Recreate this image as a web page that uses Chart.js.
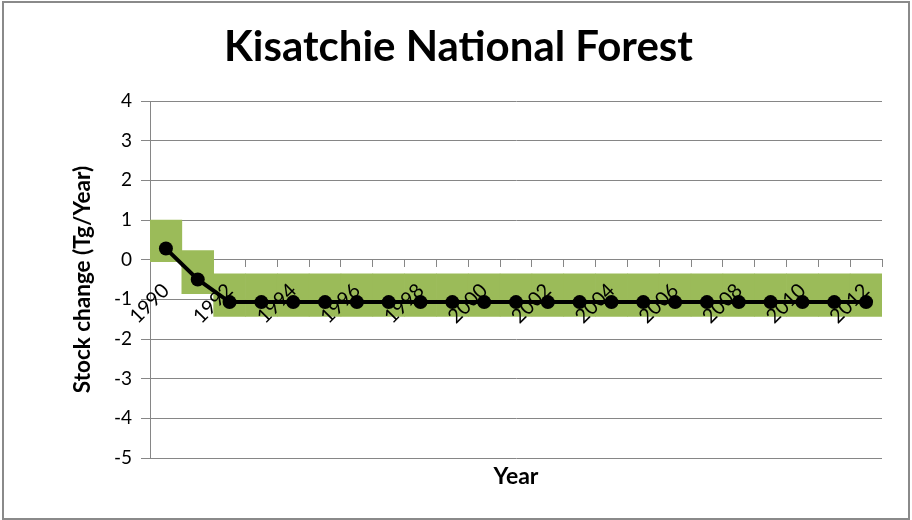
<!DOCTYPE html>
<html><head><meta charset="utf-8">
<script src="https://cdn.jsdelivr.net/npm/chart.js@4"></script>
<style>
html,body{margin:0;padding:0;background:#fff;}
#wrap{position:relative;box-sizing:border-box;margin:1px 0 0 2px;width:908px;height:519px;border:2px solid #8a8a8a;}
</style></head>
<body><div id="wrap"><canvas id="c"></canvas></div>
<script>
const years = ['1990','1991','1992','1993','1994','1995','1996','1997','1998','1999','2000','2001',
  '2002','2003','2004','2005','2006','2007','2008','2009','2010','2011','2012'];
const stockChange = [0.28, -0.5, -1.07, -1.07, -1.07, -1.07, -1.07, -1.07, -1.07, -1.07, -1.07, -1.07,
  -1.07, -1.07, -1.07, -1.07, -1.07, -1.07, -1.07, -1.07, -1.07, -1.07, -1.07];
const rangeLow = [-0.05, -0.86, -1.43, -1.43, -1.43, -1.43, -1.43, -1.43, -1.43, -1.43, -1.43, -1.43,
  -1.43, -1.43, -1.43, -1.43, -1.43, -1.43, -1.43, -1.43, -1.43, -1.43, -1.43];
const rangeHigh = [1.0, 0.23, -0.36, -0.36, -0.36, -0.36, -0.36, -0.36, -0.36, -0.36, -0.36, -0.36,
  -0.36, -0.36, -0.36, -0.36, -0.36, -0.36, -0.36, -0.36, -0.36, -0.36, -0.36];
const yMin = -5, yMax = 4, yStep = 1;

const FONT = 'Lato';
const GRID = '#868686';

new Chart(document.getElementById('c'), {
  data: {
    labels: years,
    datasets: [
      {
        type: 'line', label: 'Stock change', data: stockChange, order: 0,
        borderColor: '#000', borderWidth: 4, pointRadius: 7, pointHoverRadius: 7,
        pointBackgroundColor: '#000', pointBorderColor: '#000', pointBorderWidth: 0
      },
      {
        type: 'bar', label: 'Range', data: years.map((_, i) => [rangeLow[i], rangeHigh[i]]), order: 1,
        backgroundColor: '#9BBB59', borderWidth: 0, barPercentage: 1, categoryPercentage: 1
      }
    ]
  },
  options: {
    responsive: true, maintainAspectRatio: false, animation: false,
    layout: { padding: { left: 5, right: 0, top: 0, bottom: 0 } },
    plugins: {
      legend: { display: false }, tooltip: { enabled: false },
      title: {
        display: true, text: 'Kisatchie National Forest', color: '#000',
        font: { family: FONT, size: 42, weight: 'bold' }, padding: { top: 19, bottom: 28.6 }
      }
    },
    scales: {
      x: {
        type: 'category', position: { y: 0 },
        grid: { display: true, drawOnChartArea: false, drawTicks: true, tickLength: 7, color: GRID, offset: true },
        border: { display: true, color: GRID, width: 1 },
        ticks: {
          z: 1, autoSkip: false, maxRotation: 45, minRotation: 45, padding: 12, color: '#000',
          font: { family: FONT, size: 20 },
          callback: function(v, i) { return i % 2 === 0 ? years[i] : ''; }
        }
      },
      x2: {
        type: 'category', labels: years, position: 'bottom',
        grid: { display: false, drawTicks: false }, border: { display: false },
        ticks: { display: false },
        title: { display: true, text: 'Year', color: '#000', font: { family: FONT, size: 23, weight: 'bold' }, padding: { top: 0, bottom: 27.7 } },
        afterFit: function(s) { s.height = 60; }
      },
      y: {
        min: yMin, max: yMax,
        grid: { color: GRID, tickLength: 9, drawTicks: true },
        border: { display: true, color: GRID, width: 1 },
        ticks: { stepSize: yStep, padding: 9, color: '#000', font: { family: FONT, size: 19 } },
        title: { display: true, text: 'Stock change (Tg/Year)', color: '#000', font: { family: FONT, size: 22.5, weight: 'bold' }, padding: { top: 60.5, bottom: 0 } },
        afterFit: function(s) { s.width = 141; }
      },
      y2: {
        type: 'linear', position: 'right', min: yMin, max: yMax,
        grid: { display: false, drawTicks: false }, border: { display: false },
        ticks: { display: false },
        afterFit: function(s) { s.width = 26; }
      }
    }
  }
});
</script>
</body></html>
